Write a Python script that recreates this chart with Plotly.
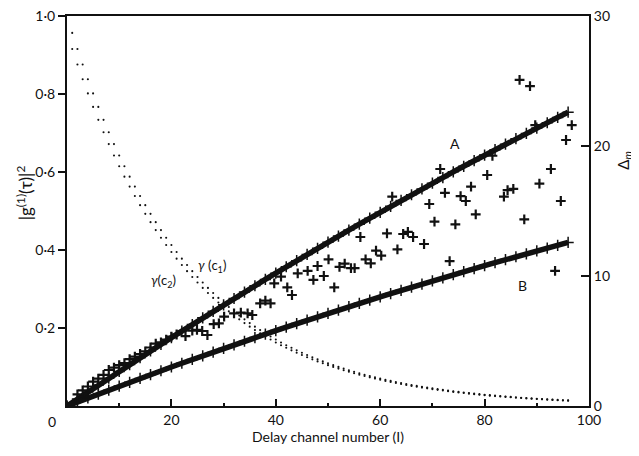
import plotly.graph_objects as go

# ---- data ----
channels = list(range(1, 97))
gamma_c1 = [0.9567, 0.9153, 0.8757, 0.8378, 0.8016, 0.7669, 0.7337, 0.7019, 0.6716, 0.6425,
            0.6147, 0.5881, 0.5626, 0.5383, 0.5150, 0.4927, 0.4714, 0.4510, 0.4315, 0.4128,
            0.3949, 0.3778, 0.3615, 0.3458, 0.3309, 0.3165, 0.3028, 0.2897, 0.2772, 0.2652,
            0.2537, 0.2427, 0.2322, 0.2222, 0.2126, 0.2034, 0.1946, 0.1861, 0.1781, 0.1704,
            0.1630, 0.1559, 0.1492, 0.1427, 0.1366, 0.1307, 0.1250, 0.1196, 0.1144, 0.1095,
            0.1047, 0.1002, 0.0959, 0.0917, 0.0877, 0.0839, 0.0803, 0.0768, 0.0735, 0.0703,
            0.0673, 0.0644, 0.0616, 0.0589, 0.0564, 0.0539, 0.0516, 0.0494, 0.0472, 0.0452,
            0.0432, 0.0414, 0.0396, 0.0379, 0.0362, 0.0347, 0.0332, 0.0317, 0.0304, 0.0290,
            0.0278, 0.0266, 0.0254, 0.0243, 0.0233, 0.0223, 0.0213, 0.0204, 0.0195, 0.0187,
            0.0178, 0.0171, 0.0163, 0.0156, 0.0149, 0.0143]
gamma_c2 = [0.9153, 0.8757, 0.8378, 0.8016, 0.7669, 0.7337, 0.7019, 0.6716, 0.6425, 0.6147,
            0.5881, 0.5626, 0.5383, 0.5150, 0.4927, 0.4714, 0.4510, 0.4315, 0.4128, 0.3949,
            0.3778, 0.3615, 0.3458, 0.3309, 0.3165, 0.3028, 0.2897, 0.2772, 0.2652, 0.2537,
            0.2427, 0.2322, 0.2222, 0.2126, 0.2034, 0.1946, 0.1861, 0.1781, 0.1704, 0.1630,
            0.1559, 0.1492, 0.1427, 0.1366, 0.1307, 0.1250, 0.1196, 0.1144, 0.1095, 0.1047,
            0.1002, 0.0959, 0.0917, 0.0877, 0.0839, 0.0803, 0.0768, 0.0735, 0.0703, 0.0673,
            0.0644, 0.0616, 0.0589, 0.0564, 0.0539, 0.0516, 0.0494, 0.0472, 0.0452, 0.0432,
            0.0414, 0.0396, 0.0379, 0.0362, 0.0347, 0.0332, 0.0317, 0.0304, 0.0290, 0.0278,
            0.0266, 0.0254, 0.0243, 0.0233, 0.0223, 0.0213, 0.0204, 0.0195, 0.0187, 0.0178,
            0.0171, 0.0163, 0.0156, 0.0149, 0.0143, 0.0137]

line_channels = list(range(0, 97, 2))
delta_A = [0, 0.54, 1.07, 1.61, 2.14, 2.66, 3.19, 3.71, 4.23, 4.74,
           5.26, 5.77, 6.27, 6.78, 7.28, 7.78, 8.27, 8.76, 9.25, 9.74,
           10.22, 10.71, 11.18, 11.66, 12.13, 12.60, 13.07, 13.53, 13.99, 14.45,
           14.90, 15.36, 15.81, 16.25, 16.70, 17.14, 17.57, 18.01, 18.44, 18.87,
           19.30, 19.72, 20.14, 20.56, 20.97, 21.38, 21.79, 22.20, 22.60]
delta_B = [0, 0.31, 0.62, 0.92, 1.22, 1.53, 1.82, 2.12, 2.42, 2.71,
           3.00, 3.29, 3.58, 3.86, 4.14, 4.43, 4.70, 4.98, 5.26, 5.53,
           5.80, 6.07, 6.34, 6.60, 6.86, 7.13, 7.38, 7.64, 7.90, 8.15,
           8.40, 8.65, 8.90, 9.14, 9.38, 9.63, 9.86, 10.10, 10.34, 10.57,
           10.80, 11.03, 11.26, 11.48, 11.70, 11.93, 12.14, 12.36, 12.58]

meas_x = [2, 3, 4, 5, 6, 7, 8, 9, 10, 11, 12, 13, 14, 15, 16, 17, 18, 19, 20, 21,
          22.7, 24, 24.9, 25.9, 26.9, 28.1, 29.1, 30.1, 32, 33.3, 34.6, 35.5, 37, 38, 39,
          39.7, 41, 42.2, 43.1, 44.2, 46.1, 47.2, 48, 49.2, 50.1, 51.2, 52.2, 53.2, 54.4, 55.1,
          56.2, 57.2, 58.2, 59.2, 60.2, 61.3, 62.3, 63.3, 64.4, 65.3, 66.3, 68.4, 69.4, 70.4,
          71.5, 72.4, 73.3, 74.4, 75.4, 76.4, 77.4, 78.3, 80.5, 81.5, 83.7, 84.4, 85.5, 86.7,
          87.6, 88.7, 89.7, 90.5, 92.7, 93.5, 94.6, 95.6, 96.7]
meas_y = [0.9, 1.2, 1.5, 1.87, 2.1, 2.4, 2.77, 2.95, 3.15, 3.3, 3.6, 3.8, 4.0, 4.2, 4.5, 4.8, 4.9, 5.1, 5.33, 5.5,
          5.38, 5.8, 5.85, 5.77, 5.46, 6.3, 6.36, 6.87, 7.13, 7.18, 7.13, 7.0, 7.9, 8.1, 7.9,
          9.44, 9.95, 9.13, 8.54, 10.2, 10.4, 9.7, 10.77, 10.0, 11.28, 9.13, 10.7, 10.95, 10.6, 10.6,
          13.0, 11.28, 10.97, 11.95, 11.56, 13.28, 16.1, 12.05, 13.23, 13.4, 13.0, 12.46, 15.54, 14.18,
          18.23, 16.4, 11.15, 13.97, 16.15, 15.77, 16.87, 14.74, 17.77, 19.25, 16.1, 16.6, 16.7, 25.08,
          14.36, 24.6, 21.6, 17.1, 18.23, 10.4, 15.77, 20.46, 21.6]

x_ticks = [20, 40, 60, 80, 100]
x_minor = [10, 30, 50, 70, 90]
y_ticks = [0.2, 0.4, 0.6, 0.8, 1.0]
y_ticktext = ["0·2", "0·4", "0·6", "0·8", "1·0"]
y2_ticks = [0, 10, 20, 30]

FONT = "Lato"
INK = "#111111"

fig = go.Figure()

# dotted decay curves (left axis)
for vals in (gamma_c1, gamma_c2):
    fig.add_trace(go.Scatter(x=channels, y=vals, mode="markers",
                             marker=dict(symbol="circle", size=2.1, color=INK),
                             yaxis="y", hoverinfo="skip"))

# lines A and B (right axis)
for vals in (delta_A, delta_B):
    fig.add_trace(go.Scatter(x=line_channels, y=vals, mode="lines+markers",
                             line=dict(color=INK, width=5.5),
                             marker=dict(symbol="cross-thin", size=8,
                                         line=dict(color=INK, width=1.5)),
                             yaxis="y2", hoverinfo="skip"))

# measured points (right axis)
fig.add_trace(go.Scatter(x=meas_x, y=meas_y, mode="markers",
                         marker=dict(symbol="cross-thin", size=7,
                                     line=dict(color=INK, width=2.2)),
                         yaxis="y2", hoverinfo="skip"))

# The page body adds an 8px offset, so the figure is 8px smaller with 8px less left/top margin.
fig.update_layout(
    width=631, height=448,
    margin=dict(l=59, r=50, t=8, b=50, autoexpand=False),
    paper_bgcolor="white", plot_bgcolor="white",
    showlegend=False,
    font=dict(family=FONT, size=14, color=INK),
    xaxis=dict(range=[0, 100], showgrid=False, zeroline=False, automargin=False,
               showline=True, linecolor=INK, linewidth=2, mirror=True,
               tickvals=x_ticks, ticktext=[str(v) for v in x_ticks],
               ticks="inside", ticklen=7, tickwidth=1.5, tickcolor=INK,
               ticklabeloverflow="allow",
               minor=dict(tickvals=x_minor, ticks="inside", ticklen=3,
                          tickwidth=1.5, tickcolor=INK),
               tickfont=dict(size=14),
               title=dict(text="Delay channel number (I)", standoff=4,
                          font=dict(size=14))),
    yaxis=dict(range=[0, 1], showgrid=False, zeroline=False, automargin=False,
               showline=True, linecolor=INK, linewidth=2,
               tickvals=y_ticks, ticktext=y_ticktext,
               ticks="outside", ticklen=7, tickwidth=1.5, tickcolor=INK,
               ticklabeloverflow="allow",
               tickfont=dict(size=14)),
    yaxis2=dict(range=[0, 30], overlaying="y", side="right", automargin=False,
                showgrid=False, zeroline=False,
                showline=True, linecolor=INK, linewidth=2,
                tickvals=y2_ticks, ticktext=[str(v) for v in y2_ticks],
                ticks="inside", ticklen=8, tickwidth=1.5, tickcolor=INK,
                ticklabeloverflow="allow",
                tickfont=dict(size=14)),
)

C = dict(xanchor="center", yanchor="middle", showarrow=False)
annotations = [
    dict(text="0", xref="paper", yref="paper", x=-0.029, y=-0.041,
         font=dict(size=14), **C),
    dict(text="|g<sup>(1)</sup>(τ)|<sup>2</sup>", xref="paper", yref="paper",
         x=-0.082, y=0.546, textangle=-90, font=dict(size=17), **C),
    dict(text="Δ<sub><i>m</i></sub>", xref="paper", yref="paper",
         x=1.068, y=0.63, textangle=-90, font=dict(size=15), **C),
    dict(text="A", xref="x", yref="y2", x=74.4, y=20.2, font=dict(size=14), **C),
    dict(text="B", xref="x", yref="y2", x=87.3, y=9.3, font=dict(size=14), **C),
    dict(text="<i>γ</i> (c<sub>1</sub>)", xref="x", yref="y", x=27.8, y=0.36,
         font=dict(size=13), **C),
    dict(text="<i>γ</i>(c<sub>2</sub>)", xref="x", yref="y", x=18.4, y=0.32,
         font=dict(size=13), **C),
]
fig.update_layout(annotations=annotations)

fig.write_html("out.html")
